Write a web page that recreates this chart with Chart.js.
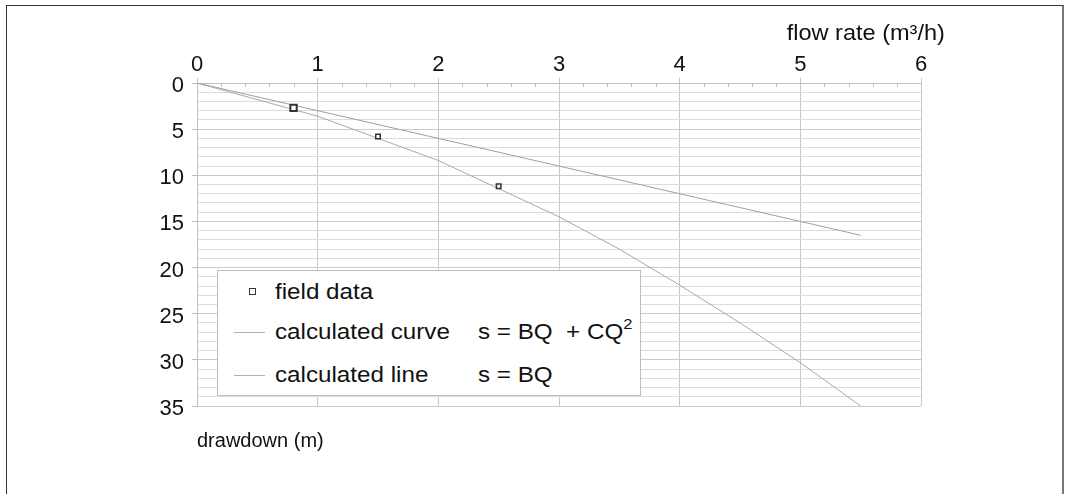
<!DOCTYPE html>
<html>
<head>
<meta charset="utf-8">
<script src="https://cdn.jsdelivr.net/npm/chart.js@4.4.1/dist/chart.umd.min.js"></script>
<style>
  html, body { margin: 0; padding: 0; background: #fff; }
  body { width: 1065px; height: 494px; position: relative; overflow: hidden; font-family: "Liberation Sans", Arial, sans-serif; color: #111; }
  #frame { position: absolute; left: 6px; top: 5px; width: 1055px; height: 600px; border-left: 1px solid #333; border-top: 1px solid #333; border-right: 2px solid #777; }
  #wrap { position: absolute; left: 0; top: 0; width: 1065px; height: 494px; }
  .title { position: absolute; font-size: 22px; white-space: nowrap; line-height: 1; }
  #xtitle { right: 120px; top: 22px; transform: scaleX(1.07); transform-origin: right center; }
  #ytitle { left: 197px; top: 430px; font-size: 20px; }
  #legend { position: absolute; left: 217px; top: 270px; width: 422px; height: 124px; border: 1px solid #bdbdbd; background: #fff; font-size: 22px; }
  .row { position: absolute; left: 0; width: 100%; height: 26px; line-height: 26px; }
  .sym { position: absolute; }
  .lab, .eq { position: absolute; white-space: nowrap; display: inline-block; transform: scaleX(1.1); transform-origin: left center; }
  .lab { left: 57px; }
  .eq { left: 260px; }
  .eq sup { font-size: 15px; vertical-align: 0; position: relative; top: -10px; }
</style>
</head>
<body>
<div id="frame"></div>
<div id="wrap"><canvas id="c" width="1065" height="494"></canvas></div>
<div class="title" id="xtitle">flow rate (m³/h)</div>
<div class="title" id="ytitle">drawdown (m)</div>
<div id="legend"></div>
<script>
// ---- data ----
const xTickValues = [0, 1, 2, 3, 4, 5, 6];
const yTickValues = [0, 5, 10, 15, 20, 25, 30, 35];
const seriesNames = ["field data", "calculated curve", "calculated line"];
const seriesFormulas = ["", "s = BQ&nbsp; + CQ<sup>2</sup>", "s = BQ"];
const fieldQ = [0.8, 1.5, 2.5];
const fieldS = [2.7, 5.8, 11.2];
const curveQ = [0, 1, 2, 3, 3.5, 4, 4.5, 5, 5.5];
const curveS = [0, 3.6, 8.4, 14.5, 18.0, 21.9, 26.0, 30.3, 35.0];
const lineQ = [0, 5.5];
const lineS = [0, 16.5];

const toXY = (xs, ys) => xs.map((x, i) => ({ x: x, y: ys[i] }));
const FONT = { family: "'Liberation Sans', Arial, sans-serif", size: 22 };
const isInt = v => Math.abs(v - Math.round(v)) < 1e-6;

const minorTicks = {
  id: 'minorTicks',
  afterDatasetsDraw(chart) {
    const xs = chart.scales.x, ctx = chart.ctx, top = chart.chartArea.top;
    ctx.save();
    ctx.strokeStyle = '#bdbdbd';
    ctx.lineWidth = 1;
    xs.ticks.forEach(t => {
      if (!isInt(t.value)) {
        const px = Math.round(xs.getPixelForValue(t.value)) + 0.5;
        ctx.beginPath(); ctx.moveTo(px, top); ctx.lineTo(px, top + 4); ctx.stroke();
      }
    });
    ctx.restore();
  }
};

new Chart(document.getElementById('c'), {
  type: 'scatter',
  data: {
    datasets: [
      { label: seriesNames[0], data: toXY(fieldQ, fieldS), showLine: false,
        pointStyle: 'rect', pointRadius: ctx => ctx.dataIndex === 0 ? 4.5 : 3.2,
        pointBorderWidth: ctx => ctx.dataIndex === 0 ? 2 : 1.5,
        pointBackgroundColor: '#fff', pointBorderColor: '#333', order: 0 },
      { label: seriesNames[1], data: toXY(curveQ, curveS), showLine: true,
        borderColor: '#a8a8a8', borderWidth: 1, pointRadius: 0, tension: 0, order: 1 },
      { label: seriesNames[2], data: toXY(lineQ, lineS), showLine: true,
        borderColor: '#a0a0a0', borderWidth: 1, pointRadius: 0, tension: 0, order: 2 }
    ]
  },
  options: {
    responsive: false,
    animation: false,
    layout: { padding: { left: 0, top: 0, right: 144, bottom: 88 } },
    plugins: { legend: { display: false }, tooltip: { enabled: false } },
    scales: {
      x: {
        type: 'linear', position: 'top', min: 0, max: 6,
        afterFit: s => { s.height = 83; },
        ticks: { stepSize: 0.2, autoSkip: false, color: '#111', font: FONT, padding: 0,
          callback: v => (isInt(v) && xTickValues.includes(Math.round(v))) ? String(Math.round(v)) : '' },
        grid: { color: c => isInt(c.tick.value) ? '#c8c8c8' : 'rgba(0,0,0,0)',
                tickColor: c => isInt(c.tick.value) ? '#c8c8c8' : 'rgba(0,0,0,0)',
                tickLength: 5, lineWidth: 1 },
        border: { color: '#c0c0c0' }
      },
      y: {
        type: 'linear', position: 'left', min: 0, max: 35, reverse: true,
        afterFit: s => { s.width = 197; },
        ticks: { stepSize: 1, autoSkip: false, color: '#111', font: FONT, padding: 8, labelOffset: 3,
          callback: v => yTickValues.includes(v) ? String(v) : '' },
        grid: { color: c => (c.tick.value % 5 === 0) ? '#cbcbcb' : '#dcdcdc',
                tickColor: c => (c.tick.value % 5 === 0) ? '#c0c0c0' : 'rgba(0,0,0,0)',
                tickLength: 5, lineWidth: 1 },
        border: { color: '#c0c0c0' }
      }
    }
  },
  plugins: [minorTicks]
});

// ---- legend (HTML, from the series arrays) ----
const legend = document.getElementById('legend');
const rowTops = [8, 48, 91];
seriesNames.forEach((name, i) => {
  const row = document.createElement('div');
  row.className = 'row';
  row.style.top = rowTops[i] + 'px';
  const sym = document.createElement('div');
  sym.className = 'sym';
  if (i === 0) {
    Object.assign(sym.style, { left: '31px', top: '9px', width: '5px', height: '5px', border: '1.5px solid #333', background: '#fff' });
  } else {
    Object.assign(sym.style, { left: '16px', top: '13px', width: '31px', height: '1px', background: '#b0b0b0' });
  }
  row.appendChild(sym);
  const lab = document.createElement('span');
  lab.className = 'lab'; lab.textContent = name;
  row.appendChild(lab);
  if (seriesFormulas[i]) {
    const eq = document.createElement('span');
    eq.className = 'eq'; eq.innerHTML = seriesFormulas[i];
    row.appendChild(eq);
  }
  legend.appendChild(row);
});
</script>
</body>
</html>
